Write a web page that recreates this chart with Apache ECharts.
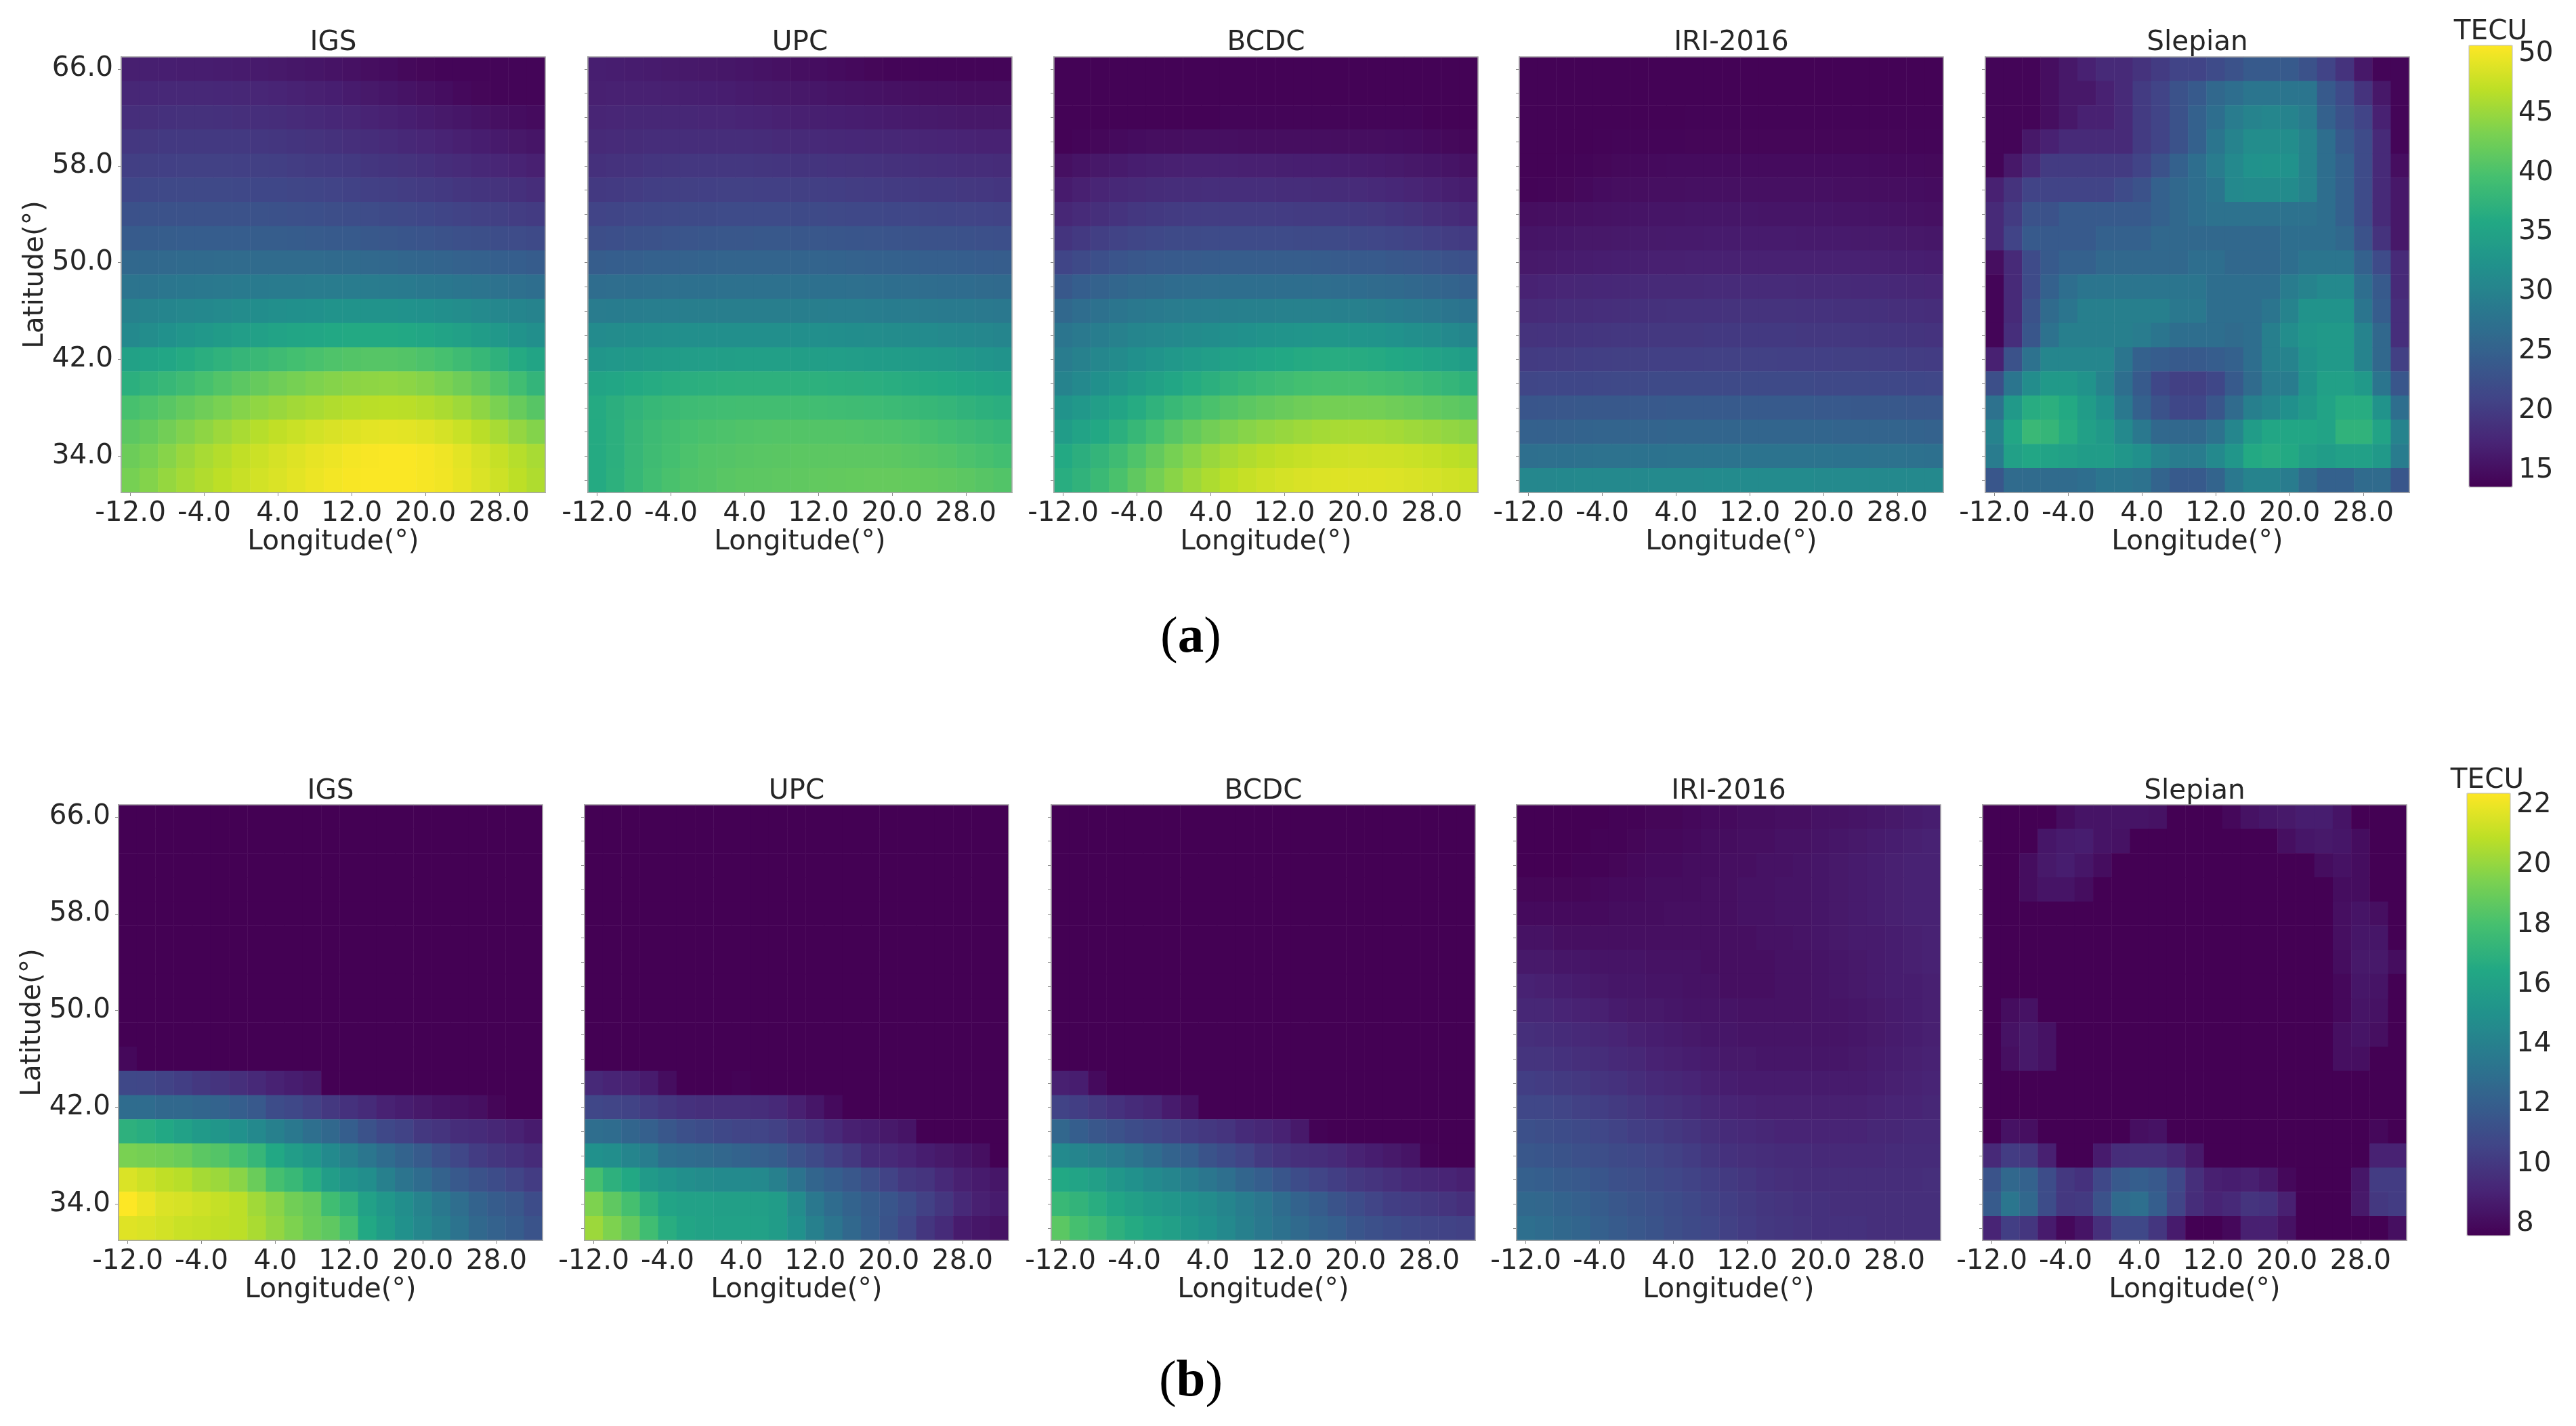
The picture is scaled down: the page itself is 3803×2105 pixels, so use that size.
<!DOCTYPE html>
<html><head><meta charset="utf-8"><style>html,body{margin:0;padding:0;background:#fff}#c{width:3803px;height:2105px}</style>
<script src="https://cdn.jsdelivr.net/npm/echarts@6/dist/echarts.min.js"></script></head><body><div id="c"></div>
<script>
const longitudes=[-12,-10,-8,-6,-4,-2,0,2,4,6,8,10,12,14,16,18,20,22,24,26,28,30,32];
const latitudes=[32,34,36,38,40,42,44,46,48,50,52,54,56,58,60,62,64,66];
const panelTitles=['IGS','UPC','BCDC','IRI-2016','Slepian'];
const barTicksA=[15,20,25,30,35,40,45,50];
const barTicksB=[8,10,12,14,16,18,20,22];
const rangeA=[13.6,50.7];
const rangeB=[7.6,22.4];
// each table: rows from latitude 66 (top) down to 32, columns from longitude -12 to 32
const igsA=[
[16.8,16.8,16.7,16.6,16.6,16.5,16.4,16.3,16.1,15.9,15.7,15.5,15.3,15,14.8,14.4,14.2,14,14,14,14,14,14],
[17.6,17.7,17.8,17.8,17.8,17.7,17.6,17.5,17.3,17.1,16.9,16.7,16.4,16.1,15.8,15.5,15.2,14.9,14.5,14.2,14,14,14],
[18.5,18.6,18.7,18.8,18.8,18.7,18.6,18.5,18.3,18.1,17.9,17.7,17.5,17.2,17,16.7,16.4,16.1,15.8,15.5,15.2,14.9,14.7],
[19.5,19.6,19.7,19.8,19.8,19.8,19.7,19.5,19.4,19.2,19,18.8,18.6,18.3,18.1,17.8,17.5,17.2,16.9,16.6,16.3,16,15.7],
[20.4,20.5,20.6,20.7,20.7,20.7,20.6,20.5,20.4,20.2,20,19.9,19.7,19.4,19.2,19,18.7,18.4,18.1,17.8,17.5,17.2,16.9],
[21.5,21.6,21.7,21.7,21.7,21.7,21.6,21.5,21.5,21.3,21.2,21,20.8,20.6,20.4,20.2,20,19.7,19.4,19.2,19,18.7,18.4],
[22.8,22.9,23,23,23,23,22.9,22.9,22.8,22.7,22.6,22.4,22.2,22.1,21.9,21.7,21.5,21.2,20.9,20.7,20.5,20.2,20],
[24.2,24.3,24.4,24.5,24.5,24.5,24.5,24.4,24.4,24.3,24.2,24.1,24,23.8,23.6,23.4,23.2,23,22.7,22.5,22.3,22.1,21.9],
[26,26.1,26.2,26.3,26.4,26.5,26.5,26.5,26.5,26.5,26.5,26.4,26.3,26.2,26,25.8,25.6,25.4,25.2,25,24.8,24.6,24.3],
[27.8,27.9,28.1,28.3,28.4,28.6,28.7,28.8,28.9,28.9,29,29,29,29,28.9,28.7,28.5,28.3,28,27.8,27.5,27.2,27],
[29.8,30,30.3,30.6,30.8,31.1,31.4,31.6,31.8,32,32.2,32.4,32.5,32.5,32.4,32.3,32.1,31.8,31.5,31.1,30.7,30.3,30],
[31,31.5,32.2,32.8,33.3,33.8,34.2,34.6,35,35.3,35.6,35.9,36,36,36,35.8,35.5,35.1,34.6,34,33.3,32.5,31.8],
[34.8,35,35.6,36.2,36.8,37.4,38,38.5,39,39.5,39.9,40.3,40.6,40.8,40.8,40.6,40.2,39.7,39,38.2,37.3,36.2,35.2],
[37,37.6,38.3,39,39.8,40.5,41.2,41.9,42.5,43,43.5,43.9,44.2,44.4,44.5,44.3,43.9,43.3,42.5,41.6,40.5,39.2,37.8],
[39.8,40.3,41,41.8,42.5,43.2,43.9,44.5,45,45.5,45.9,46.3,46.6,46.8,46.9,46.8,46.5,46,45.3,44.4,43.3,42,40.9],
[41.2,41.8,42.7,43.6,44.4,45.2,45.9,46.6,47.2,47.7,48.2,48.6,48.9,49.2,49.3,49.2,48.9,48.4,47.7,46.8,45.8,44.7,43.8],
[42.3,43,44,45,45.8,46.5,47.2,47.8,48.4,48.9,49.4,49.8,50.2,50.4,50.5,50.5,50.3,49.9,49.2,48.4,47.5,46.6,45.8],
[43,43.8,44.8,45.6,46.3,47,47.6,48.2,48.7,49.2,49.7,50.1,50.4,50.5,50.5,50.5,50.3,50,49.4,48.7,47.9,47,46.2]];
const upcA=[
[16.7,16.6,16.5,16.4,16.2,16.1,16,15.9,15.7,15.5,15.3,15.1,14.9,14.7,14.5,14.2,14,14,14,14,14,14,14],
[16.9,17,17,17,16.9,16.8,16.7,16.6,16.4,16.2,16.1,16,15.8,15.6,15.5,15.4,15.3,15.2,15.1,15.1,15,15,15],
[17.4,17.5,17.6,17.6,17.6,17.6,17.5,17.5,17.3,17.2,17,16.9,16.8,16.7,16.6,16.5,16.4,16.3,16.2,16.1,16,16,16],
[18,18.1,18.2,18.3,18.4,18.4,18.4,18.4,18.3,18.2,18,18,17.9,17.8,17.7,17.6,17.6,17.5,17.4,17.3,17.2,17.1,17.1],
[18.7,18.9,19.1,19.3,19.4,19.5,19.5,19.5,19.5,19.4,19.3,19.2,19.2,19.1,19,18.9,18.8,18.7,18.6,18.5,18.4,18.3,18.2],
[19.7,19.9,20.1,20.3,20.4,20.5,20.6,20.7,20.7,20.6,20.6,20.5,20.4,20.3,20.2,20.1,20,19.9,19.8,19.7,19.6,19.5,19.3],
[21,21.2,21.4,21.6,21.7,21.8,21.9,22,22,22,22,21.9,21.8,21.7,21.6,21.6,21.5,21.4,21.3,21.2,21.1,21,20.9],
[22.4,22.6,22.8,23,23.2,23.3,23.5,23.6,23.6,23.7,23.7,23.6,23.6,23.5,23.4,23.3,23.2,23.1,23,22.9,22.8,22.7,22.6],
[24.4,24.6,24.8,25,25.1,25.2,25.3,25.4,25.5,25.5,25.5,25.5,25.4,25.3,25.2,25.1,25,24.9,24.8,24.7,24.6,24.5,24.4],
[26.8,26.9,27,27.1,27.2,27.3,27.3,27.4,27.4,27.4,27.4,27.4,27.3,27.3,27.2,27.1,27,26.9,26.8,26.7,26.6,26.5,26.4],
[29,29.1,29.2,29.3,29.3,29.4,29.4,29.4,29.4,29.4,29.4,29.4,29.4,29.3,29.3,29.2,29.1,29,28.9,28.8,28.7,28.6,28.5],
[31.2,31.4,31.6,31.7,31.8,31.9,31.9,31.9,31.9,31.9,31.9,31.9,31.8,31.7,31.6,31.5,31.4,31.3,31.2,31,30.8,30.6,30.4],
[33,33.2,33.5,33.8,34,34.1,34.2,34.3,34.4,34.4,34.4,34.3,34.3,34.2,34.1,34,33.9,33.8,33.6,33.4,33.1,32.8,32.5],
[35.2,35.6,36,36.3,36.6,36.8,37,37.1,37.2,37.2,37.2,37.2,37.1,37,36.9,36.8,36.6,36.4,36.2,36,35.7,35.4,35],
[36.2,36.9,37.6,38.2,38.6,38.9,39.1,39.2,39.3,39.3,39.3,39.3,39.2,39.1,39,38.9,38.7,38.5,38.2,37.9,37.5,37.1,36.8],
[36.2,37,38,38.8,39.3,39.7,40,40.2,40.4,40.5,40.6,40.6,40.6,40.6,40.5,40.4,40.3,40.1,39.8,39.4,39,38.6,38.2],
[36.2,37,38.1,39,39.6,40.1,40.5,40.7,40.9,41,41.1,41.2,41.2,41.3,41.3,41.3,41.2,41,40.8,40.5,40.1,39.8,39.4],
[36.2,37.1,38.2,39.2,39.9,40.4,40.7,41,41.2,41.3,41.4,41.5,41.6,41.7,41.8,41.9,41.9,41.8,41.7,41.5,41.2,40.9,40.5]];
const bcdcA=[
[13.8,13.8,13.8,13.8,13.8,13.8,13.8,13.8,13.8,13.8,13.8,13.8,13.8,13.8,13.8,13.8,13.8,13.8,13.8,13.8,13.8,13.8,13.8],
[13.8,13.8,13.8,13.8,13.8,13.8,13.8,13.8,13.8,13.8,13.8,13.8,13.8,13.8,13.8,13.8,13.8,13.8,13.8,13.8,13.8,13.8,13.8],
[13.8,13.8,13.8,13.8,13.8,13.8,13.8,13.8,13.8,14,14,14,14,14,14,14,14,14,14,14,13.8,13.8,13.8],
[13.8,14,14.3,14.6,14.8,15,15,15.1,15.1,15.1,15,15,15,15,15,15,15,15,14.9,14.8,14.6,14.4,14.2],
[15.2,15.6,16,16.3,16.6,16.8,16.9,17,17,17,16.9,16.9,16.8,16.7,16.7,16.6,16.5,16.4,16.2,16,15.8,15.6,15.3],
[16.4,16.9,17.4,17.8,18,18.2,18.3,18.4,18.5,18.5,18.5,18.5,18.4,18.3,18.2,18.2,18.1,17.9,17.7,17.4,17.1,16.8,16.5],
[17.6,18.1,18.6,19.1,19.5,19.8,20,20.1,20.2,20.2,20.2,20.2,20.1,20,20,19.9,19.8,19.6,19.3,19,18.6,18.2,17.8],
[19.2,19.8,20.4,20.9,21.3,21.6,21.8,21.9,22,22,22,22,22,21.9,21.9,21.8,21.6,21.4,21.2,20.9,20.6,20.2,19.9],
[21.2,21.9,22.6,23.2,23.6,23.9,24.1,24.2,24.3,24.4,24.4,24.4,24.4,24.4,24.3,24.2,24.1,24,23.8,23.6,23.3,23,22.7],
[23.8,24.6,25.2,25.8,26.2,26.4,26.6,26.8,26.9,27,27,27,27,27,26.9,26.8,26.7,26.5,26.3,26,25.7,25.4,25.1],
[26,26.8,27.4,28,28.5,28.8,29,29.2,29.3,29.5,29.6,29.7,29.8,29.8,29.8,29.7,29.6,29.4,29.1,28.8,28.4,28,27.6],
[28,28.6,29.2,29.8,30.3,30.7,31,31.3,31.6,31.9,32.2,32.4,32.6,32.8,32.9,32.9,32.8,32.6,32.3,31.9,31.5,31,30.4],
[29,29.8,30.6,31.3,32,32.6,33.2,33.7,34.2,34.7,35.1,35.5,35.9,36.2,36.4,36.5,36.4,36.2,35.9,35.5,35,34.5,34],
[30,31,32,33,33.9,34.8,35.6,36.3,37,37.6,38.2,38.7,39.1,39.5,39.7,39.8,39.8,39.6,39.3,38.9,38.4,37.9,37.3],
[32.5,33.3,34.2,35.2,36.3,37.4,38.4,39.2,40,40.7,41.2,41.7,42.1,42.5,42.8,42.9,42.9,42.8,42.5,42.2,41.8,41.4,41],
[34,35,35.9,37,38.2,39.6,40.8,41.8,42.7,43.4,44,44.5,44.9,45.3,45.6,45.8,45.9,45.8,45.6,45.3,45,44.6,44.2],
[36,36.9,37.8,39,40.3,41.7,43,44,45,45.7,46.3,46.8,47.2,47.5,47.8,48,48.1,48,47.9,47.7,47.4,47,46.6],
[36.6,37.5,38.6,40,41.5,42.9,44.1,45.2,46.1,46.9,47.5,48,48.3,48.6,48.8,48.9,48.9,48.9,48.8,48.6,48.4,48.1,47.8]];
const iriA=[
[13.8,13.8,13.8,13.8,13.8,13.8,13.8,13.8,13.8,13.8,13.8,13.8,13.8,13.8,13.8,13.8,13.8,13.8,13.8,13.8,13.8,13.8,13.8],
[13.8,13.8,13.8,13.8,13.8,13.8,13.8,13.8,13.8,13.8,13.8,13.8,13.8,13.8,13.8,13.8,13.8,13.8,13.8,13.8,13.8,13.8,13.8],
[13.8,13.8,13.8,13.8,13.8,13.8,13.8,13.8,13.8,13.9,13.9,13.9,13.9,13.9,13.9,13.9,13.9,13.9,13.9,13.9,13.9,13.9,13.9],
[13.8,13.8,13.8,13.8,13.9,14,14,14,14,14.1,14.1,14.1,14.1,14.1,14.1,14.1,14.1,14.1,14.1,14.1,14.1,14,14],
[13.8,13.8,13.9,14,14.2,14.4,14.5,14.6,14.7,14.7,14.7,14.7,14.7,14.7,14.7,14.7,14.7,14.7,14.7,14.6,14.5,14.5,14.4],
[13.9,14,14.2,14.5,14.8,15,15,15.1,15.1,15.2,15.2,15.2,15.2,15.2,15.2,15.2,15.2,15.1,15.1,15,15,14.9,14.8],
[15,15.1,15.2,15.3,15.4,15.5,15.6,15.7,15.7,15.8,15.8,15.8,15.8,15.7,15.7,15.7,15.7,15.6,15.6,15.5,15.4,15.3,15.2],
[15.6,15.7,15.8,16,16,16.1,16.2,16.2,16.3,16.3,16.4,16.4,16.4,16.4,16.4,16.3,16.3,16.3,16.2,16.2,16.1,16,15.9],
[16.1,16.2,16.4,16.5,16.6,16.7,16.8,16.9,16.9,17,17,17,17,17,17,17,17,17,17,16.9,16.8,16.7,16.6],
[17.1,17.3,17.5,17.6,17.7,17.8,17.9,18,18,18,18.1,18.1,18.1,18.1,18.1,18,18,18,17.9,17.9,17.8,17.6,17.5],
[18,18.1,18.3,18.4,18.5,18.6,18.7,18.8,18.9,18.9,18.9,19,19,19,19,18.9,18.9,18.8,18.8,18.7,18.6,18.5,18.4],
[19,19.1,19.2,19.3,19.4,19.5,19.5,19.6,19.6,19.6,19.7,19.7,19.7,19.7,19.7,19.6,19.6,19.6,19.5,19.4,19.3,19.2,19.1],
[20,20.1,20.2,20.3,20.4,20.5,20.5,20.6,20.6,20.6,20.7,20.7,20.7,20.7,20.6,20.6,20.6,20.5,20.5,20.4,20.3,20.2,20.1],
[21.3,21.4,21.5,21.5,21.6,21.7,21.7,21.8,21.8,21.8,21.8,21.8,21.8,21.8,21.8,21.8,21.7,21.7,21.7,21.6,21.6,21.5,21.4],
[23.4,23.5,23.6,23.7,23.8,23.8,23.9,23.9,24,24,24,24,24,24,24,24,23.9,23.9,23.8,23.8,23.7,23.6,23.6],
[25,25.1,25.2,25.3,25.4,25.4,25.5,25.5,25.6,25.6,25.6,25.6,25.6,25.6,25.6,25.6,25.6,25.5,25.5,25.4,25.4,25.3,25.2],
[27.1,27.2,27.3,27.4,27.5,27.5,27.6,27.6,27.7,27.7,27.7,27.7,27.7,27.7,27.7,27.7,27.7,27.6,27.6,27.5,27.5,27.4,27.3],
[30.6,30.7,30.8,30.9,30.9,31,31,31.1,31.1,31.1,31.2,31.2,31.2,31.2,31.2,31.2,31.1,31.1,31.1,31,31,30.9,30.9]];
const slepianA=[
[14,14,14,15,16,17,18,18,19,20,21,21,22,23,24,24,24,23,21,19,16,14,14],
[14,14,14,15,16,16,17,18,20,21,23,24,26,27,28,28,28,28,24,22,19,16,14],
[14,14,14,15,16,17,17,18,20,21,23,25,27,29,30,30.5,30,29,25,23,21,17,14],
[14,14,16,17,18,18,18,18,20,21,23,25,28,30,31.5,31.5,31.5,30,27,24,22,18,14],
[14,16,18,20,20,20,20,20,21,23,25,27,29,31,32.3,32.5,32.3,30,27,25,22,18,15],
[17,19,21,21,21,21,21,22,23,25,26,27,28,31,31.3,31.3,31.3,30,27,25,22,18,16],
[18,20,23,23,24,24,24,24,24,25,26,27,27.5,27.5,27.5,27.5,27.5,27.5,27,25,22,18,16],
[18,21,24,24,24,24,25,25,25,26,26,26,26,26,26,26,27,27,27,26,23,19,16],
[15,18,22,24,25,25,26,26,26,26,26,27,27,26,26,26,27,28,28,28,25,22,18],
[14,18,22,25,27,28,28,28,28,28,28,28,27,27,27,27,29,30,31,31,27,24,18],
[14,18,23,26.5,28,29.5,29.5,29.5,29.5,29.5,28.5,28.5,27,27,27,28,30,32.5,32.5,32.5,28,24.5,18.5],
[14,18.5,23.5,27.5,29.5,29.5,29.5,29.5,29,28,27,27,27,26.5,27,29.5,31.5,33,33.5,33.5,30,26,18.5],
[17,23,27.5,30.5,30.5,30.5,30.5,28,25,24.5,24,24,24.5,25,27,29.5,30,32.5,33.5,33.5,30,26,20.5],
[22.5,28,31.5,33.5,33.5,32.5,30,27,24,21.5,20.5,20.5,21.5,24,26.5,29,29,32.5,34.5,34.5,33.5,28,23.5],
[27.5,33.5,36.5,37,36,34,32,28.5,25,23,21.5,21.5,23.5,26.5,29.5,30.5,32,33.5,35,36.5,36.5,32.5,27],
[30,35.5,38.5,38,36.5,34.5,33.5,31,28.5,26,26,26,27.5,30.5,34,35.5,35.5,35.5,35,37.5,37.5,35,30],
[29,34.5,35.5,35,34.5,34,34,33,32,30,29,29,31,33,36,36.5,36,34.5,34,34.5,34.5,33.5,29],
[23.5,26.5,26.5,26.5,26.5,27,28,28,27.5,25.5,24,24,25.5,28.5,30,30,29,26.5,25,25,26.5,26.5,23.5]];
const darkRow=[7.6,7.6,7.6,7.6,7.6,7.6,7.6,7.6,7.6,7.6,7.6,7.6,7.6,7.6,7.6,7.6,7.6,7.6,7.6,7.6,7.6,7.6,7.6];
const igsB=[darkRow,darkRow,darkRow,darkRow,darkRow,darkRow,darkRow,darkRow,darkRow,darkRow,
[7.9,7.6,7.6,7.6,7.6,7.6,7.6,7.6,7.6,7.6,7.6,7.6,7.6,7.6,7.6,7.6,7.6,7.6,7.6,7.6,7.6,7.6,7.6],
[10.8,10.7,10.5,10.3,10,9.8,9.6,9.3,9,8.8,8.6,7.6,7.6,7.6,7.6,7.6,7.6,7.6,7.6,7.6,7.6,7.6,7.6],
[12.8,12.8,12.6,12.6,12.4,12.3,12,11.7,11,10.8,10.4,10,9.7,9.4,9,8.8,8.6,8.4,8.3,8.2,7.8,7.6,7.6],
[17,16.8,16.5,16,15.6,15.3,15,14.5,14,13.5,13,12.6,12,11.3,10.8,10.5,10,9.8,9.5,9.4,9.2,9,8.7],
[19.4,19.3,19.2,19,18.6,18.4,18,17.4,16.5,15.8,15.3,14.6,14,13.4,12.8,12.3,11.8,11.2,10.7,10.2,9.9,9.7,9.4],
[21.6,21.3,21,20.8,20.4,20.2,19.8,19,18,17.5,16.8,15.8,15.2,14.8,14,13.3,12.8,12.2,11.7,11.3,11,10.6,10.2],
[22.4,22,21.6,21.5,21.3,21.1,20.9,20.3,19.8,19.2,18.9,17.8,17.2,16,15.4,14.8,14.2,13.5,12.9,12.3,11.9,11.6,11],
[21.7,21.6,21.4,21.2,21.1,21,20.9,20.5,20,19.5,19,18.7,18,16.5,15.7,15,14.4,13.9,13.2,12.6,12.2,11.9,11.4]];
const upcB=[darkRow,darkRow,darkRow,darkRow,darkRow,darkRow,darkRow,darkRow,darkRow,darkRow,darkRow,
[9.3,9.1,9,8.7,8.1,7.6,7.6,7.6,7.7,7.6,7.6,7.6,7.6,7.6,7.6,7.6,7.6,7.6,7.6,7.6,7.6,7.6,7.6],
[10.7,10.6,10.5,10.2,9.9,9.7,9.6,9.6,9.6,9.5,9.3,8.9,8.5,8,7.6,7.6,7.6,7.6,7.6,7.6,7.6,7.6,7.6],
[12.9,12.8,12.4,12.1,11.6,11.2,11,10.8,10.6,10.6,10.4,10,9.7,9.3,8.9,8.8,8.6,8.4,7.6,7.6,7.6,7.6,7.6],
[15,14.8,14.3,13.8,13,12.8,12.7,12.5,12.3,12.1,11.9,11.3,10.9,10.4,10,9.4,9.3,9.1,8.8,8.6,8.4,8.2,7.6],
[18,17,16.5,15.6,15.2,14.9,14.7,14.6,14.6,14.5,14,13.2,12.4,12,11.6,11.1,10.5,10,9.8,9.3,8.9,8.7,8.5],
[19.5,18.7,18,17,16.2,16,16,15.9,15.9,15.9,15.7,14.7,13.5,12.8,12.3,11.9,11.5,11,10.4,9.9,9.3,8.9,8.7],
[20.2,19.5,18.8,17.8,16.8,16.3,16.1,16,16,16,15.7,15,14,13.3,12.6,12,11.4,10.7,9.9,9.4,8.7,8.5,8.3]];
const bcdcB=[darkRow,darkRow,darkRow,darkRow,darkRow,darkRow,darkRow,darkRow,darkRow,darkRow,darkRow,
[8.9,8.8,8,7.6,7.6,7.6,7.6,7.6,7.6,7.6,7.6,7.6,7.6,7.6,7.6,7.6,7.6,7.6,7.6,7.6,7.6,7.6,7.6],
[10.5,10.3,10,9.7,9.4,9.2,8.7,8.3,7.6,7.6,7.6,7.6,7.6,7.6,7.6,7.6,7.6,7.6,7.6,7.6,7.6,7.6,7.6],
[12.5,12,11.6,11.3,11,10.8,10.5,10.2,10,9.8,9.4,9.2,9,8.6,7.7,7.6,7.6,7.6,7.6,7.6,7.6,7.6,7.6],
[14.6,14.3,14,13.7,13.3,12.8,12.3,12,11.4,11,10.6,10.1,9.8,9.6,9.5,9.3,9,8.8,8.6,8.4,7.7,7.6,7.6],
[16.5,16.2,15.9,15.4,15,14.6,14.3,13.8,13.4,13,12.4,12,11.5,11,10.6,10.3,10,9.8,9.6,9.3,9.2,9.1,8.9],
[17.5,17.2,16.8,16.3,15.9,15.6,15.3,15,14.7,14.3,13.8,13.4,12.8,12.3,11.9,11.4,11,10.6,10.3,10.2,10,9.8,9.6],
[18.6,18,17.6,17,16.6,16.2,15.9,15.4,15,14.5,14,13.5,13.1,12.7,12.3,12,11.5,11.2,11,10.8,10.6,10.5,10.4]];
const iriB=[
[7.6,7.6,7.6,7.6,7.6,7.7,7.7,7.8,7.8,7.9,8,8,8.1,8.1,8.2,8.2,8.3,8.3,8.4,8.5,8.6,8.7,8.8],
[7.6,7.6,7.6,7.6,7.7,7.7,7.8,7.9,7.9,8,8.1,8.1,8.2,8.2,8.3,8.3,8.4,8.5,8.6,8.7,8.8,8.9,9],
[7.6,7.6,7.6,7.7,7.7,7.8,7.9,8,8,8.1,8.1,8.2,8.2,8.3,8.3,8.4,8.5,8.6,8.7,8.8,8.9,9,9],
[7.8,7.8,7.8,7.8,7.9,8,8,8.1,8.1,8.1,8.2,8.2,8.3,8.3,8.4,8.4,8.5,8.6,8.7,8.8,8.9,9,9],
[8,8,8,8,8,8.1,8.1,8.1,8.2,8.2,8.2,8.2,8.3,8.3,8.4,8.4,8.5,8.6,8.7,8.8,8.9,9,9],
[8.3,8.3,8.2,8.2,8.2,8.2,8.2,8.2,8.2,8.2,8.2,8.2,8.2,8.3,8.3,8.4,8.5,8.6,8.7,8.7,8.8,8.9,9],
[8.6,8.6,8.5,8.5,8.4,8.4,8.4,8.3,8.3,8.3,8.2,8.2,8.2,8.2,8.3,8.3,8.4,8.5,8.6,8.7,8.8,8.9,9],
[9,8.9,8.8,8.7,8.6,8.5,8.5,8.4,8.4,8.3,8.3,8.2,8.2,8.2,8.3,8.3,8.4,8.5,8.6,8.7,8.8,8.8,8.9],
[9.2,9.2,9.1,9,8.9,8.7,8.6,8.6,8.5,8.4,8.4,8.4,8.3,8.3,8.3,8.3,8.4,8.4,8.5,8.6,8.7,8.8,8.9],
[9.6,9.5,9.4,9.3,9.2,9.1,8.9,8.8,8.7,8.6,8.5,8.5,8.4,8.4,8.4,8.4,8.4,8.4,8.5,8.6,8.7,8.8,8.9],
[9.8,9.8,9.7,9.6,9.5,9.3,9.2,9,8.9,8.8,8.7,8.6,8.6,8.5,8.5,8.5,8.5,8.5,8.6,8.7,8.8,8.9,9],
[10.3,10.2,10.1,10,9.8,9.7,9.5,9.3,9.2,9.1,8.9,8.8,8.7,8.7,8.7,8.7,8.7,8.7,8.7,8.8,8.9,9,9.1],
[10.7,10.7,10.6,10.4,10.3,10.1,9.9,9.7,9.6,9.4,9.2,9.1,9,8.9,8.9,8.9,8.9,8.9,8.9,9,9.1,9.1,9.2],
[11.2,11.1,11,10.9,10.7,10.5,10.3,10.2,10,9.8,9.6,9.4,9.3,9.2,9.1,9.1,9.1,9.1,9.1,9.2,9.2,9.3,9.3],
[11.6,11.5,11.4,11.2,11.1,10.9,10.8,10.6,10.4,10.2,9.9,9.7,9.6,9.5,9.4,9.4,9.3,9.3,9.3,9.3,9.4,9.4,9.4],
[12.1,12,11.8,11.7,11.5,11.2,11.1,10.9,10.7,10.5,10.3,10.1,9.9,9.7,9.6,9.5,9.5,9.5,9.5,9.5,9.5,9.5,9.6],
[12.6,12.5,12.3,12.1,11.9,11.6,11.4,11.2,11,10.8,10.5,10.3,10.1,9.9,9.8,9.7,9.7,9.6,9.6,9.6,9.6,9.6,9.6],
[13,12.8,12.6,12.4,12.1,11.8,11.6,11.4,11.1,10.9,10.7,10.4,10.2,10,9.9,9.8,9.7,9.7,9.7,9.6,9.6,9.6,9.6]];
const slepianB=[
[7.6,7.6,7.6,7.6,8.1,8.4,8.4,8.4,8.4,8.3,7.6,7.6,7.6,7.9,8.3,8.5,8.6,8.8,8.8,8.4,7.6,7.6,7.6],
[7.6,7.6,7.6,8.5,8.7,8.8,8.4,8.3,7.6,7.6,7.6,7.6,7.6,7.6,7.6,7.6,8.2,8.5,8.6,8.5,8.1,7.6,7.6],
[7.6,7.6,8.1,8.6,8.8,8.5,8.1,7.6,7.6,7.6,7.6,7.6,7.6,7.6,7.6,7.6,7.6,7.6,8.1,8.3,8.1,7.6,7.6],
[7.6,7.6,8.1,8.4,8.4,8.1,7.6,7.6,7.6,7.6,7.6,7.6,7.6,7.6,7.6,7.6,7.6,7.6,7.6,8.1,8.1,7.6,7.6],
[7.6,7.6,7.6,7.6,7.6,7.6,7.6,7.6,7.6,7.6,7.6,7.6,7.6,7.6,7.6,7.6,7.6,7.6,7.6,8.2,8.4,8.2,7.6],
[7.6,7.6,7.6,7.6,7.6,7.6,7.6,7.6,7.6,7.6,7.6,7.6,7.6,7.6,7.6,7.6,7.6,7.6,7.6,8.2,8.5,8.5,7.6],
[7.6,7.6,7.6,7.6,7.6,7.6,7.6,7.6,7.6,7.6,7.6,7.6,7.6,7.6,7.6,7.6,7.6,7.6,7.6,8.1,8.6,8.6,8.1],
[7.6,7.6,7.6,7.6,7.6,7.6,7.6,7.6,7.6,7.6,7.6,7.6,7.6,7.6,7.6,7.6,7.6,7.6,7.6,7.9,8.5,8.4,7.6],
[7.6,8.1,8.3,7.6,7.6,7.6,7.6,7.6,7.6,7.6,7.6,7.6,7.6,7.6,7.6,7.6,7.6,7.6,7.6,7.9,8.4,8.3,7.6],
[7.6,8.3,8.6,8.3,7.6,7.6,7.6,7.6,7.6,7.6,7.6,7.6,7.6,7.6,7.6,7.6,7.6,7.6,7.6,8.2,8.4,8.2,7.6],
[7.6,8.2,8.6,8.3,7.6,7.6,7.6,7.6,7.6,7.6,7.6,7.6,7.6,7.6,7.6,7.6,7.6,7.6,7.6,8.2,8.2,7.6,7.6],
darkRow,darkRow,
[7.6,8.3,8.2,7.6,7.6,7.6,7.6,7.6,8.2,8.3,7.6,7.6,7.6,7.6,7.6,7.6,7.6,7.6,7.6,7.6,7.6,7.9,7.6],
[9.3,10.2,10,8.9,7.6,7.6,8.7,9.5,9.6,9.6,9.2,8.6,7.6,7.6,7.6,7.6,7.6,7.6,7.6,7.6,7.6,9,9],
[11.4,12.6,12.2,11,10,9.7,10.8,11.7,12,11.7,10.8,9.6,8.9,8.8,8.9,8.6,7.9,7.6,7.6,7.6,8.5,10.2,10.2],
[11.8,13.4,12.6,11,10,10.1,11.3,12.7,13,12,10.6,9.5,9.1,9.3,9.8,9.7,8.9,7.6,7.6,7.6,8.6,10,10.2],
[9.1,10.3,9.9,8.7,7.9,8.4,9.6,10.7,10.8,9.9,8.7,7.6,7.6,7.9,8.9,8.9,8.3,7.6,7.6,7.6,7.6,7.6,8.2]];
const tablesA=[igsA,upcA,bcdcA,iriA,slepianA];
const tablesB=[igsB,upcB,bcdcB,iriB,slepianB];
const viridis=['#440154','#482475','#414487','#355f8d','#2a788e','#21918c','#22a884','#44bf70','#7ad151','#bddf26','#fde725'];

// layout (pixels)
const rowA={top:84,height:643,lefts:[179,868,1556,2243,2931],width:626,bar:{left:3645,top:67,w:64,h:652},
  titleTop:43,unit:{x:3677,top:27},cap:{l:'a',top:904}};
const rowB={top:1188,height:643,lefts:[175,863,1552,2239,2927],width:626,bar:{left:3642,top:1171,w:64,h:653},
  titleTop:1148,unit:{x:3672,top:1132},cap:{l:'b',top:2002}};
const ink='#262626', F='"DejaVu Sans"', S=40.5;

const grid=[],xAxis=[],yAxis=[],series=[],title=[],graphic=[],visualMap=[];
const cellsOf=t=>{const d=[];t.forEach((r,k)=>r.forEach((v,c)=>d.push([c,latitudes.length-1-k,v])));return d;};
function addRow(row,tables,range,ticks){
  const first=series.length;
  tables.forEach((t,p)=>{
    const g=grid.length,L=row.lefts[p];
    grid.push({left:L,top:row.top,width:row.width,height:row.height,outerBoundsMode:'none',containLabel:false});
    xAxis.push({gridIndex:g,type:'category',data:longitudes,boundaryGap:true,
      name:'Longitude(°)',nameLocation:'middle',nameGap:48,nameTextStyle:{fontFamily:F,fontSize:S,color:ink},
      axisLine:{show:true,lineStyle:{color:'#999',width:2}},
      axisTick:{show:true,alignWithLabel:true,interval:3,length:5,lineStyle:{color:'#888'}},
      axisLabel:{show:true,interval:3,margin:11,fontFamily:F,fontSize:S,color:ink,formatter:v=>Number(v).toFixed(1)},
      splitLine:{show:false}});
    const ya={gridIndex:g,type:'category',data:latitudes,boundaryGap:true,
      axisLine:{show:true,lineStyle:{color:'#999',width:2}},
      axisTick:{show:true,alignWithLabel:true,length:5,lineStyle:{color:'#888'},interval:p===0?(i=>i%4===1):0},
      axisLabel:{show:p===0,interval:i=>i%4===1,margin:12,padding:[8,0,0,0],fontFamily:F,fontSize:S,color:ink,formatter:v=>Number(v).toFixed(1)},
      splitLine:{show:false}};
    if(p===0)Object.assign(ya,{name:'Latitude(°)',nameLocation:'middle',nameGap:104,nameTextStyle:{fontFamily:F,fontSize:S,color:ink}});
    yAxis.push(ya);
    series.push({type:'heatmap',name:panelTitles[p],xAxisIndex:g,yAxisIndex:g,data:cellsOf(t),itemStyle:{borderWidth:0},emphasis:{disabled:true},progressive:0});
    title.push({text:panelTitles[p],left:L+row.width/2,top:row.titleTop,textAlign:'center',padding:0,textStyle:{fontFamily:F,fontSize:S,fontWeight:'normal',color:ink}});
    graphic.push({type:'rect',silent:true,z:50,shape:{x:L,y:row.top,width:row.width,height:row.height},style:{fill:'none',stroke:'#aaa',lineWidth:1.5}});
  });
  const idx=[];for(let i=first;i<series.length;i++)idx.push(i);
  const b=row.bar;
  visualMap.push({type:'continuous',min:range[0],max:range[1],seriesIndex:idx,dimension:2,calculable:false,hoverLink:false,
    left:b.left,top:b.top,itemWidth:b.w,itemHeight:b.h,padding:0,text:null,inRange:{color:viridis},orient:'vertical'});
  const g=grid.length;
  grid.push({left:b.left,top:b.top,width:b.w,height:b.h,outerBoundsMode:'none',containLabel:false});
  xAxis.push({gridIndex:g,type:'value',show:false,min:0,max:1});
  yAxis.push({gridIndex:g,type:'value',position:'right',min:range[0],max:range[1],
    axisLine:{show:false},splitLine:{show:false},
    axisTick:{show:true,length:4,customValues:ticks,lineStyle:{color:'#888'}},
    axisLabel:{show:true,customValues:ticks,margin:9,fontFamily:F,fontSize:S,color:ink,formatter:v=>String(Math.round(v))}});
  graphic.push({type:'rect',silent:true,z:50,shape:{x:b.left,y:b.top,width:b.w,height:b.h},style:{fill:'none',stroke:'#bbb',lineWidth:1}});
  title.push({text:'TECU',left:row.unit.x,top:row.unit.top,textAlign:'center',padding:0,textStyle:{fontFamily:F,fontSize:S,fontWeight:'normal',color:ink}});
  title.push({text:'{p|(}{q|'+row.cap.l+'}{p|)}',left:1758,top:row.cap.top,textAlign:'center',padding:0,
    textStyle:{rich:{p:{fontFamily:'"Liberation Serif"',fontSize:77,color:'#000',fontWeight:'normal'},q:{fontFamily:'"Liberation Serif"',fontSize:77,color:'#000',fontWeight:'bold'}}}});
}
addRow(rowA,tablesA,rangeA,barTicksA);
addRow(rowB,tablesB,rangeB,barTicksB);
const chart=echarts.init(document.getElementById('c'),null,{renderer:'canvas'});
chart.setOption({animation:false,backgroundColor:'#fff',grid,xAxis,yAxis,series,title,graphic,visualMap,tooltip:{show:false}});
</script></body></html>
